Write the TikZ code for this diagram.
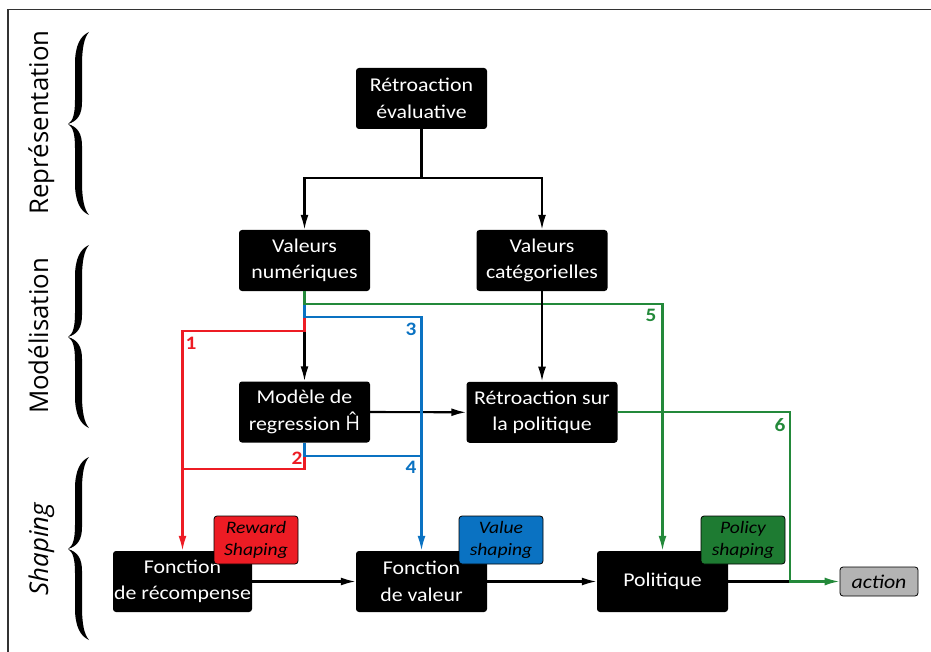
\documentclass[tikz,border=0pt]{standalone}
\usepackage{fontspec}
\setmainfont{Carlito}[FakeStretch=1.12]
\newfontfamily\sidefont{Open Sans}
\usetikzlibrary{arrows.meta}
\definecolor{redA}{HTML}{ED1C24}
\definecolor{blueA}{HTML}{0A72C2}
\definecolor{greenA}{HTML}{23893A}
\definecolor{greenB}{HTML}{1E7B32}
\definecolor{grayA}{HTML}{B3B3B3}
\newcommand\mybrace[3]{%
\fill (89,#1) .. controls (80,#1+4) and (75,#1+14) .. (75,#1+32) -- (75,#2-24)
 .. controls (75,#2-10) and (73,#2-3) .. (68,#2)
 .. controls (73,#2+3) and (75,#2+10) .. (75,#2+24) -- (75,#3-32)
 .. controls (75,#3-14) and (80,#3-4) .. (89,#3)
 .. controls (84,#3-6) and (82,#3-16) .. (82,#3-34) -- (82,#2+22)
 .. controls (82,#2+10) and (78,#2+3) .. (68,#2)
 .. controls (78,#2-3) and (82,#2-10) .. (82,#2-22) -- (82,#1+34)
 .. controls (82,#1+16) and (84,#1+6) .. (89,#1) -- cycle;}
\begin{document}
\begin{tikzpicture}[x=1pt,y=-1pt,
  font=\fontsize{19.5}{26.5}\selectfont,
  box/.style={fill=black, text=white, rounded corners=3pt, align=center, inner sep=0pt, minimum width=131pt, minimum height=61pt},
  tag/.style={draw=black, line width=0.8pt, rounded corners=3pt, align=center, inner sep=0pt,
    font=\fontsize{17.5}{22}\selectfont\itshape, minimum width=84pt, minimum height=48pt},
  conn/.style={line width=2.1pt},
  tip/.style={-{Latex[length=15pt,width=8pt]}},
  num/.style={font=\fontsize{19}{19}\selectfont\bfseries},
  side/.style={rotate=90, anchor=base, font=\sidefont\fontsize{25.8}{30}\selectfont}]
\useasboundingbox (0,0) rectangle (931,652);
\draw[line width=1.2pt, black!80] (8,652) -- (8,9.5) -- (931,9.5);

% side labels and braces
\node[side] (lrep) at (48,122.5) {Représentation};
\node[side] (lmod) at (48,336) {Modélisation};
\node[side, font=\sidefont\itshape\fontsize{25.8}{30}\selectfont] (lsha) at (48,549) {Shaping};
\mybrace{32}{124}{215}
\mybrace{245}{337}{428}
\mybrace{457}{549}{640}

% main boxes
\node[box] (retro) at (421.5,98.5) {Rétroaction\\évaluative};
\node[box] (vnum) at (304.5,260.5) {Valeurs\\numériques};
\node[box] (vcat) at (542,260.5) {Valeurs\\catégorielles};
\node[box] (model) at (304.5,412) {Modèle de\\regression {\sidefont\fontsize{20}{20}\selectfont Ĥ}};
\node[box, minimum width=151pt] (rpol) at (542,412.3) {Rétroaction sur\\la politique};
\node[box, minimum width=139pt] (frec) at (182.5,581.5) {Fonction\\de récompense};
\node[box] (fval) at (421.5,581.5) {Fonction\\de valeur};
\node[box] (pol) at (662.5,581.5) {Politique};
\node[draw=black, line width=0.8pt, fill=grayA, rounded corners=3pt, minimum width=78pt, minimum height=29pt, inner sep=0pt, font=\fontsize{19.5}{22}\selectfont\itshape] (act) at (879,581.5) {action};

% coordinates
\coordinate (split) at (421.5,178);
\coordinate (rL) at (182.5,469);
\coordinate (bR) at (421.5,455.7);
\coordinate (gcorner) at (790,581.5);

% black connectors
\draw[conn] (retro.south) -- (split);
\draw[conn, tip] (split) -| (vnum.north);
\draw[conn, tip] (split) -| (vcat.north);
\draw[conn, tip] (vnum.south) -- (model.north);
\draw[conn, tip] (model.east) -- (rpol.west);
\draw[conn, tip] (frec.east) -- (fval.west);
\draw[conn, tip] (fval.east) -- (pol.west);
\draw[conn] (pol.east) -- (gcorner);

% red
\draw[conn, redA, tip] (vnum.south) -- (304.5,331) -| (frec.north);
\draw[conn, redA] (model.south) |- (rL);
% blue
\draw[conn, blueA, tip] (vnum.south) -- (304.5,316.7) -| (fval.north);
\draw[conn, blueA] (model.south) |- (bR);
% green
\draw[conn, greenA, tip] (vnum.south) -- (304.5,304) -| (pol.north);
\draw[conn, greenA, tip] (rpol.east) -| (gcorner) -- (act.west);
\draw[conn, tip] (vcat.south) -- (rpol.north);

% numbers
\node[num, text=redA] (n1) at (191,343) {1};
\node[num, text=redA] (n2) at (297,458) {2};
\node[num, text=blueA] (n3) at (411,329) {3};
\node[num, text=blueA] (n4) at (411,467) {4};
\node[num, text=greenA] (n5) at (651,315) {5};
\node[num, text=greenA] (n6) at (780,425) {6};

% shaping tags
\node[tag, fill=redA] (rs) at (256,540) {Reward\\Shaping};
\node[tag, fill=blueA] (vs) at (501,540) {Value\\shaping};
\node[tag, fill=greenB] (ps) at (743,540) {Policy\\shaping};
\end{tikzpicture}
\end{document}
